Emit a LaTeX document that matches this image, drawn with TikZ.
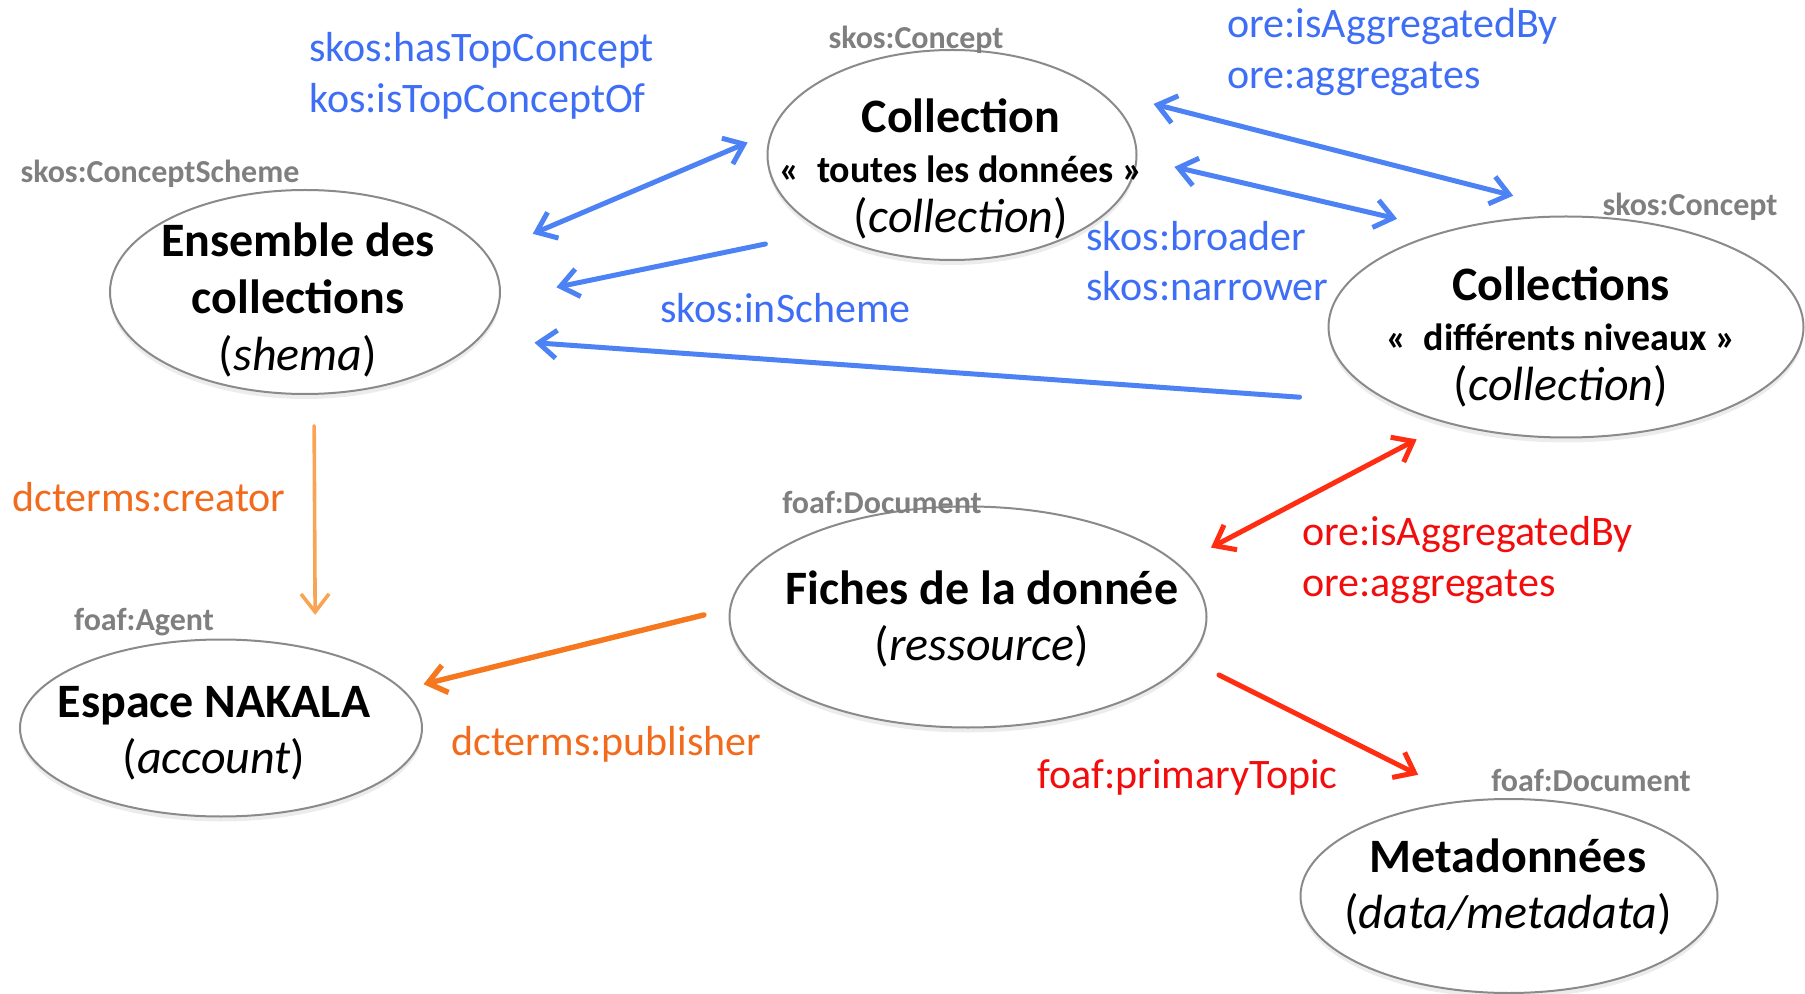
\documentclass[tikz,border=0pt]{standalone}
\usepackage{fontspec}
\setmainfont{Carlito}
\usetikzlibrary{arrows.meta, shapes.geometric, shadows}
\definecolor{skosblue}{HTML}{3D6EF5}
\definecolor{skosarrow}{HTML}{4C82F4}
\definecolor{dcorange}{HTML}{F26B1D}
\definecolor{creatorarrow}{HTML}{F9A454}
\definecolor{publisharrow}{HTML}{F5781E}
\definecolor{orered}{HTML}{F20C0C}
\definecolor{redarrow}{HTML}{FF2E12}
\definecolor{taggray}{HTML}{7F7F7F}
\definecolor{ringgray}{HTML}{8A8A8A}

\begin{document}
\begin{tikzpicture}[x=0.5pt, y=-0.5pt,
    cls/.style={ellipse, draw=ringgray, line width=1pt, fill=white, inner sep=0pt,
        drop shadow={opacity=0.15, shadow xshift=0pt, shadow yshift=-2.5pt}},
    ctext/.style={align=center, font=\fontsize{24}{28}\selectfont},
    typetag/.style={text=taggray, font=\fontsize{16}{19}\selectfont\bfseries},
    prop/.style={align=left, anchor=west, inner sep=0pt, font=\fontsize{21}{25.3}\selectfont},
    link/.style={line width=2.5pt, line cap=round, >={Straight Barb[length=9pt, width=14pt]}}]
      \useasboundingbox (0,0) rectangle (1805,994);

      % Classes
      \node[cls, minimum width=195pt, minimum height=102pt] (schema) at (305,292) {};
      \node[cls, minimum width=184.5pt, minimum height=105pt] (coll) at (952,155) {};
      \node[cls, minimum width=237.5pt, minimum height=110.5pt] (colls) at (1566,327) {};
      \node[cls, minimum width=238.5pt, minimum height=110.5pt] (fiches) at (968,617) {};
      \node[cls, minimum width=201pt, minimum height=88.5pt] (nakala) at (221,728) {};
      \node[cls, minimum width=208.5pt, minimum height=97pt] (meta) at (1509,896) {};

      \node[ctext, font=\fontsize{24}{28.5}\selectfont] (schema-txt) at (298,300) {\textbf{Ensemble des}\\\textbf{collections}\\(\textit{shema})};
      \node[ctext, font=\fontsize{24}{25}\selectfont] (coll-txt) at (961,169) {\textbf{Collection}\\{\fontsize{19}{23}\selectfont\bfseries «~ toutes les données »}\\(\textit{collection})};
      \node[ctext, font=\fontsize{24}{25}\selectfont] (colls-txt) at (1561,337) {\textbf{Collections}\\{\fontsize{19}{23}\selectfont\bfseries «~ différents niveaux »}\\(\textit{collection})};
      \node[ctext] (fiches-txt) at (982,619) {\textbf{Fiches de la donnée}\\(\textit{ressource})};
      \node[ctext] (nakala-txt) at (214,733) {\textbf{Espace NAKALA}\\(\textit{account})};
      \node[ctext] (meta-txt) at (1508,887) {\textbf{Metadonnées}\\(\textit{data/metadata})};

      % Types
      \node[typetag] (schema-tag) at (160,174) {skos:ConceptScheme};
      \node[typetag] (coll-tag) at (916,40) {skos:Concept};
      \node[typetag] (colls-tag) at (1690,207) {skos:Concept};
      \node[typetag] (fiches-tag) at (882,503) {foaf:Document};
      \node[typetag] (nakala-tag) at (144,622) {foaf:Agent};
      \node[typetag] (meta-tag) at (1591,780) {foaf:Document};

      % Properties
      \node[prop, text=skosblue] (top-lbl) at (309,76) {skos:hasTopConcept\\kos:isTopConceptOf};
      \node[prop, text=skosblue] (ore-lbl) at (1227,52) {ore:isAggregatedBy\\ore:aggregates};
      \node[prop, text=skosblue] (broad-lbl) at (1086,261) {skos:broader\\skos:narrower};
      \node[prop, text=skosblue] (scheme-lbl) at (660,308) {skos:inScheme};
      \node[prop, text=dcorange] (creator-lbl) at (12,497) {dcterms:creator};
      \node[prop, text=dcorange] (publisher-lbl) at (451,744) {dcterms:publisher};
      \node[prop, text=orered] (ore2-lbl) at (1302,560) {ore:isAggregatedBy\\ore:aggregates};
      \node[prop, text=orered] (topic-lbl) at (1037,777) {foaf:primaryTopic};

      % Links
      \draw[link, <->, skosarrow, shorten <=25pt, shorten >=12.5pt] (schema.12) -- (coll.173);
      \draw[link, ->, skosarrow, shorten <=30pt, shorten >=28.5pt] (coll.211) -- (schema.-2);
      \draw[link, ->, skosarrow, shorten <=47pt, shorten >=27.5pt] (colls.204) -- (schema.-15);
      \draw[link, <->, skosarrow, shorten <=28.5pt, shorten >=41.5pt] (coll.24) -- (colls.76);
      \draw[link, <->, skosarrow, shorten <=19pt, shorten >=25.5pt] (coll.-1) -- (colls.141);
      \draw[link, ->, creatorarrow, line width=1.8pt, shorten <=15.5pt, shorten >=17pt] (schema.-85) -- (nakala.40);
      \draw[link, ->, publisharrow, line width=2.7pt, shorten <=13pt, shorten >=10.5pt] (fiches.178) -- (nakala.12);
      \draw[link, <->, redarrow, shorten <=18pt, shorten >=17pt] (fiches.14) -- (colls.219);
      \draw[link, ->, redarrow, shorten <=16.75pt, shorten >=28pt] (fiches.-11) -- (meta.113);
\end{tikzpicture}
\end{document}
